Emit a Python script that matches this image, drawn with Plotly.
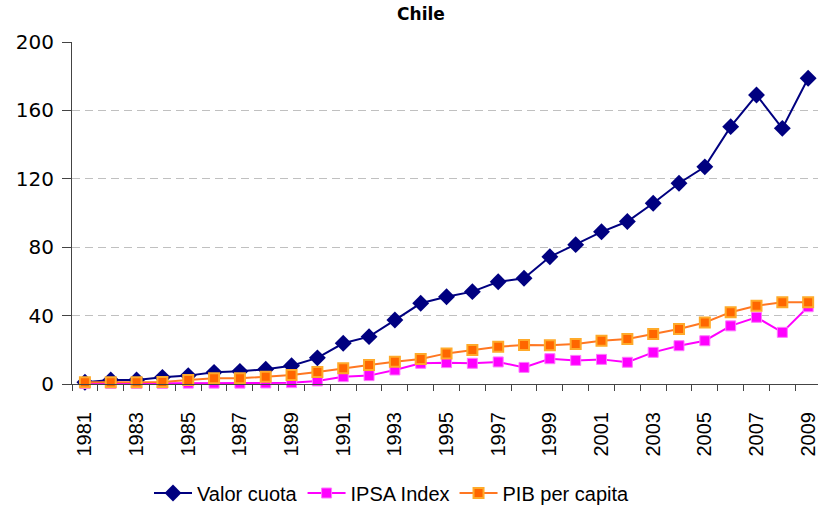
import plotly.graph_objects as go

years = list(range(1981, 2010))
valor_cuota = [1, 2.3, 2.3, 3.9, 4.9, 6.8, 7.4, 8.6, 10.7, 15.3, 23.8, 27.7, 37.4, 47.2, 51, 54,
               59.8, 61.8, 74.4, 81.5, 89, 95, 105.7, 117.4, 127, 150.5, 169, 149.5, 178.8]
ipsa_index = [0.3, 0.3, 0.3, 0.3, 0.5, 0.5, 0.5, 0.6, 0.8, 1.8, 4.3, 4.9, 8.2, 12.1, 12.5, 12.1,
              12.9, 9.7, 14.8, 13.8, 14.4, 12.7, 18.5, 22.4, 25.3, 34, 39, 30.2, 45.2]
pib_per_capita = [1, 1, 1, 1.2, 2.3, 3.3, 3.3, 4.3, 5.3, 7, 9.2, 11.1, 13, 14.6, 17.9, 19.9,
                  21.8, 22.8, 22.6, 23.4, 25.3, 26.3, 29.2, 32.2, 36, 42, 45.8, 47.8, 47.8]
label_years = list(range(1981, 2010, 2))
y_ticks = [0, 40, 80, 120, 160, 200]

fig = go.Figure()
fig.add_trace(go.Scatter(
    x=years, y=valor_cuota, name="Valor cuota", mode="lines+markers",
    line=dict(color="#000080", width=2),
    marker=dict(symbol="diamond", size=13, color="#000080"),
    cliponaxis=False))
fig.add_trace(go.Scatter(
    x=years, y=ipsa_index, name="IPSA Index", mode="lines+markers",
    line=dict(color="#FF00FF", width=2),
    marker=dict(symbol="square", size=10, color="#FF00FF", line=dict(color="#FF77FF", width=1)),
    cliponaxis=False))
fig.add_trace(go.Scatter(
    x=years, y=pib_per_capita, name="PIB per capita", mode="lines+markers",
    line=dict(color="#FF7722", width=2),
    marker=dict(symbol="square", size=10, color="#FF6600", line=dict(color="#FFAA2A", width=2)),
    cliponaxis=False))

fig.update_layout(
    width=818, height=508,
    margin=dict(l=72, r=0, t=42, b=124, autoexpand=False),
    paper_bgcolor="white", plot_bgcolor="white",
    title=dict(text="<b>Chile</b>", x=421 / 818, xanchor="center", y=1 - 14 / 508, yanchor="middle",
               font=dict(family="DejaVu Sans", size=17, color="black")),
    font=dict(family="Liberation Sans", color="black"),
    showlegend=True,
    legend=dict(orientation="h", x=(392 - 72) / 746, xanchor="center", y=-(493 - 384) / 342,
                yanchor="middle", font=dict(family="Liberation Sans", size=20), itemwidth=38,
                bgcolor="rgba(0,0,0,0)"),
)
fig.update_xaxes(
    range=[1980.5, 1980.5 + 746 / 25.83], automargin=False,
    tickmode="array", tickvals=label_years, ticktext=[str(y) for y in label_years],
    tickangle=-90, ticks="", tickfont=dict(family="Liberation Sans", size=20),
    ticklabeloverflow="allow",
    showline=True, linecolor="#444", linewidth=1, showgrid=False, zeroline=False,
    ticklabelstandoff=19,
    minor=dict(ticks="outside", tick0=1980.5, dtick=1, ticklen=6, tickcolor="#444", showgrid=False),
)
fig.update_yaxes(
    range=[0, 200], tickmode="array", tickvals=y_ticks, automargin=False,
    ticks="outside", ticklen=9, tickcolor="#444",
    tickfont=dict(family="DejaVu Sans", size=20),
    showline=True, linecolor="#444", linewidth=1,
    showgrid=True, gridcolor="#C0C0C0", griddash="8px,5px", gridwidth=1,
    zeroline=False, ticklabelstandoff=4,
)

fig.write_html(
    "out.html",
    config={"displayModeBar": False},
    post_script="document.body.style.margin='0';document.body.style.overflow='hidden';",
)
